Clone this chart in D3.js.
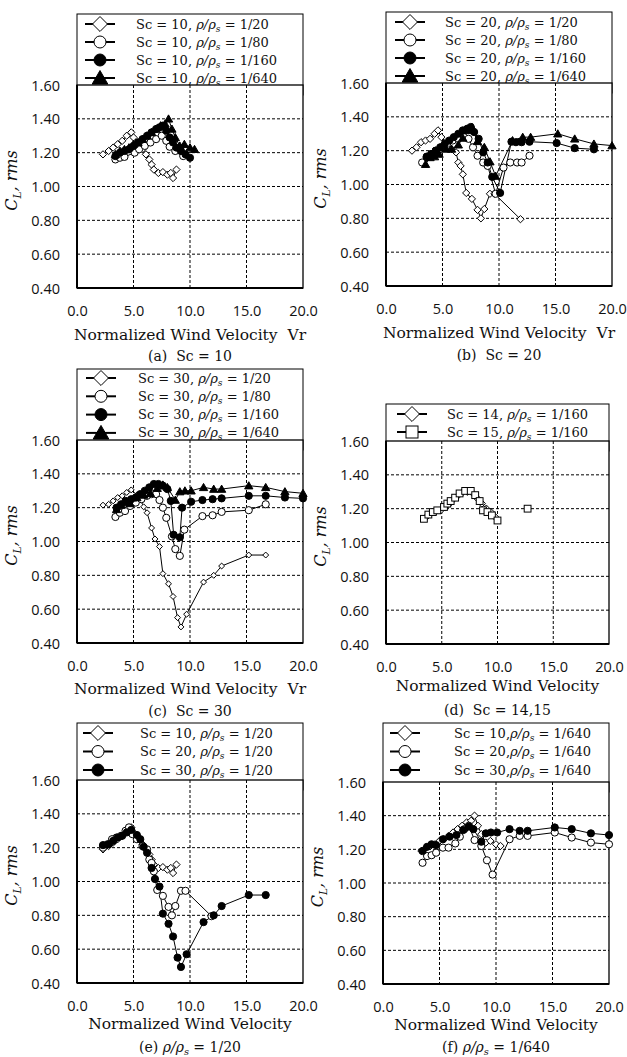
<!DOCTYPE html>
<html lang="en">
<head>
<meta charset="UTF-8">
<title>CL,rms vs Normalized Wind Velocity</title>
<script src="https://d3js.org/d3.v7.min.js"></script>
<style>
  body { margin: 0; background: #fff; }
  .tick-label { font-family: "Open Sans", sans-serif; font-size: 14.5px; fill: #111; }
  .grid { stroke: #000; stroke-width: 1; stroke-dasharray: 3,2; }
  .serif { font-family: "DejaVu Serif", serif; fill: #111; }
</style>
</head>
<body>
<div id="chart"></div>
<script>
// tick values
const xTicks = [0, 5, 10, 15, 20];
const yTicks = [0.4, 0.6, 0.8, 1.0, 1.2, 1.4, 1.6];

// Sc = 10
const sc10_r20 = [[2.3,1.19],[2.8,1.21],[3.2,1.23],[3.6,1.25],[4.0,1.27],[4.4,1.30],[4.8,1.32],[5.0,1.29],[5.4,1.26],[5.8,1.22],[6.1,1.19],[6.4,1.16],[6.6,1.13],[6.8,1.10],[7.2,1.08],[7.6,1.085],[8.0,1.07],[8.3,1.08],[8.5,1.05],[8.8,1.10]];
const sc10_r80 = [[3.4,1.16],[3.8,1.17],[4.2,1.175],[5.1,1.20],[5.5,1.22],[6.0,1.24],[6.5,1.26],[7.0,1.28],[7.5,1.30],[7.9,1.27],[8.2,1.235],[8.7,1.21],[9.4,1.18]];
const sc10_r160 = [[3.4,1.18],[3.8,1.20],[4.2,1.21],[4.6,1.22],[5.0,1.24],[5.4,1.26],[5.8,1.28],[6.2,1.30],[6.6,1.32],[7.0,1.34],[7.3,1.35],[7.6,1.36],[7.9,1.33],[8.2,1.29],[8.5,1.26],[8.8,1.23],[9.2,1.21],[9.6,1.19],[10.0,1.17]];
const sc10_r640 = [[3.4,1.19],[3.8,1.21],[4.2,1.22],[4.6,1.23],[5.0,1.25],[5.4,1.26],[5.8,1.28],[6.2,1.30],[6.6,1.32],[7.0,1.34],[7.4,1.36],[7.8,1.37],[8.1,1.40],[8.4,1.34],[8.7,1.29],[9.1,1.24],[9.5,1.25],[10.0,1.23],[10.4,1.22]];

// Sc = 20
const sc20_r20 = [[2.3,1.20],[2.7,1.22],[3.1,1.25],[3.5,1.26],[3.9,1.27],[4.3,1.30],[4.6,1.32],[4.9,1.28],[5.3,1.25],[5.8,1.21],[6.2,1.19],[6.4,1.13],[6.6,1.11],[6.8,1.06],[7.1,0.95],[7.6,0.915],[8.1,0.85],[8.4,0.80],[8.7,0.855],[9.2,0.945],[9.6,0.945],[11.9,0.795]];
const sc20_r80 = [[3.2,1.13],[3.6,1.16],[4.0,1.18],[4.4,1.20],[4.9,1.22],[5.4,1.24],[5.9,1.26],[6.4,1.27],[6.9,1.28],[7.3,1.27],[7.7,1.22],[8.1,1.17],[8.6,1.13],[9.0,1.11],[9.7,0.945],[10.4,1.10],[11.0,1.13],[11.6,1.13],[12.0,1.13],[12.7,1.17]];
const sc20_r160 = [[3.6,1.165],[4.0,1.18],[4.4,1.20],[4.8,1.22],[5.2,1.24],[5.6,1.26],[6.0,1.28],[6.4,1.30],[6.8,1.32],[7.2,1.33],[7.5,1.34],[7.8,1.31],[8.2,1.27],[8.6,1.19],[9.0,1.13],[9.4,1.045],[10.1,0.95],[11.1,1.253],[11.5,1.25],[12.0,1.25],[12.7,1.253],[15.1,1.245],[16.7,1.215],[18.4,1.208]];
const sc20_r640 = [[3.5,1.12],[3.9,1.16],[4.3,1.165],[4.7,1.18],[5.3,1.21],[5.8,1.21],[6.4,1.235],[6.8,1.275],[7.2,1.32],[7.6,1.34],[8.1,1.255],[8.7,1.22],[9.2,1.135],[9.7,1.05],[11.2,1.26],[12.1,1.28],[12.8,1.28],[15.2,1.30],[16.7,1.27],[18.4,1.24],[20.0,1.23]];

// Sc = 30
const sc30_r20 = [[2.3,1.215],[2.8,1.22],[3.2,1.24],[3.6,1.26],[4.0,1.27],[4.4,1.29],[4.8,1.305],[5.3,1.275],[5.6,1.25],[5.9,1.205],[6.2,1.17],[6.6,1.08],[6.9,1.015],[7.3,0.97],[7.6,0.81],[8.1,0.75],[8.5,0.675],[8.9,0.55],[9.2,0.495],[9.7,0.57],[11.2,0.76],[12.1,0.80],[12.8,0.855],[15.2,0.92],[16.7,0.92]];
const sc30_r80 = [[3.4,1.145],[3.8,1.17],[4.25,1.18],[4.7,1.21],[5.2,1.23],[5.7,1.25],[6.2,1.27],[6.6,1.28],[7.0,1.28],[7.3,1.245],[7.6,1.20],[7.9,1.14],[8.4,1.03],[8.7,0.955],[9.1,0.915],[9.5,1.07],[11.1,1.15],[12.0,1.155],[12.8,1.175],[15.2,1.185],[16.7,1.22]];
const sc30_r160 = [[3.5,1.20],[3.9,1.22],[4.3,1.24],[4.8,1.25],[5.2,1.26],[5.6,1.28],[6.0,1.30],[6.4,1.32],[6.8,1.34],[7.2,1.34],[7.6,1.33],[8.0,1.31],[8.3,1.24],[8.55,1.04],[9.1,1.025],[9.3,1.20],[10.1,1.235],[11.1,1.245],[12.0,1.25],[12.8,1.255],[15.2,1.27],[16.7,1.27],[18.4,1.26],[20.0,1.255]];
const sc30_r640 = [[3.5,1.19],[3.9,1.215],[4.3,1.23],[4.7,1.225],[5.3,1.26],[5.9,1.275],[6.5,1.285],[7.1,1.315],[7.6,1.335],[8.0,1.32],[8.7,1.245],[9.1,1.295],[9.55,1.30],[10.1,1.30],[11.2,1.32],[12.1,1.31],[12.8,1.31],[15.2,1.33],[16.7,1.32],[18.4,1.295],[20.0,1.285]];

// Sc = 14, 15 (rho/rho_s = 1/160)
const sc14_r160 = [[3.6,1.15],[4.0,1.17],[4.4,1.18],[4.9,1.19],[5.3,1.21],[5.7,1.23],[6.1,1.26],[6.5,1.28],[6.9,1.30],[7.3,1.30],[7.8,1.29],[8.2,1.26],[8.6,1.23],[9.0,1.20],[9.4,1.18],[9.8,1.15]];
const sc15_r160 = [[3.4,1.14],[3.8,1.165],[4.2,1.18],[4.6,1.19],[5.2,1.21],[5.5,1.23],[5.8,1.245],[6.2,1.265],[6.6,1.29],[7.1,1.305],[7.6,1.305],[8.0,1.28],[8.4,1.245],[8.7,1.19],[9.1,1.18],[9.5,1.16],[10.0,1.13],null,[12.7,1.20]];

const panels = [
  { box: [77, 303, 85, 288], legTop: 14, rowY: 24, rowH: 18, lineDx: 8, textDx: 59,
    xlab: "Normalized Wind Velocity  Vr", xlabDy: 52, capDy: 73, cap: { tag: "(a)  ", sc: "Sc = 10" },
    series: [
      { data: sc10_r20, mk: "diamond", label: ["Sc = 10, ", "1/20"] },
      { data: sc10_r80, mk: "circle", label: ["Sc = 10, ", "1/80"] },
      { data: sc10_r160, mk: "dot", label: ["Sc = 10, ", "1/160"] },
      { data: sc10_r640, mk: "triangle", label: ["Sc = 10, ", "1/640"] }] },
  { box: [386, 612, 83, 286], legTop: 12, rowY: 22, rowH: 18, lineDx: 9, textDx: 59,
    xlab: "Normalized Wind Velocity  Vr", xlabDy: 52, capDy: 74, cap: { tag: "(b)  ", sc: "Sc = 20" },
    series: [
      { data: sc20_r20, mk: "diamond", label: ["Sc = 20, ", "1/20"] },
      { data: sc20_r80, mk: "circle", label: ["Sc = 20, ", "1/80"] },
      { data: sc20_r160, mk: "dot", label: ["Sc = 20, ", "1/160"] },
      { data: sc20_r640, mk: "triangle", label: ["Sc = 20, ", "1/640"] }] },
  { box: [77, 303, 440, 643], legTop: 369, rowY: 378, rowH: 18.3, lineDx: 9, textDx: 61,
    xlab: "Normalized Wind Velocity  Vr", xlabDy: 51, capDy: 73, cap: { tag: "(c)  ", sc: "Sc = 30" },
    series: [
      { data: sc30_r20, mk: "diamond", small: true, label: ["Sc = 30, ", "1/20"] },
      { data: sc30_r80, mk: "circle", label: ["Sc = 30, ", "1/80"] },
      { data: sc30_r160, mk: "dot", label: ["Sc = 30, ", "1/160"] },
      { data: sc30_r640, mk: "triangle", label: ["Sc = 30, ", "1/640"] }] },
  { box: [386, 609, 441, 644], legTop: 404, rowY: 414, rowH: 18, lineDx: 11, textDx: 61,
    xlab: "Normalized Wind Velocity", xlabDy: 47, capDy: 71, cap: { tag: "(d)  ", sc: "Sc = 14,15" },
    series: [
      { data: sc14_r160, mk: "diamond", label: ["Sc = 14, ", "1/160"] },
      { data: sc15_r160, mk: "square", label: ["Sc = 15, ", "1/160"] }] },
  { box: [77, 303, 780, 983], legTop: 723, rowY: 733, rowH: 18.5, lineDx: 6, textDx: 63,
    xlab: "Normalized Wind Velocity", xlabDy: 46, capDy: 69, cap: { tag: "(e) ", ratio: "1/20" },
    series: [
      { data: sc10_r20, mk: "diamond", label: ["Sc = 10, ", "1/20"] },
      { data: sc20_r20, mk: "circle", label: ["Sc = 20, ", "1/20"] },
      { data: sc30_r20, mk: "dot", label: ["Sc = 30, ", "1/20"] }] },
  { box: [383, 609, 782, 984], legTop: 723, rowY: 733, rowH: 18.5, lineDx: 7, textDx: 71,
    xlab: "Normalized Wind Velocity", xlabDy: 46, capDy: 68, cap: { tag: "(f) ", ratio: "1/640" },
    series: [
      { data: sc10_r640, mk: "diamond", label: ["Sc = 10,", "1/640"] },
      { data: sc20_r640, mk: "circle", label: ["Sc = 20,", "1/640"] },
      { data: sc30_r640, mk: "dot", label: ["Sc = 30,", "1/640"] }] }
];

const svg = d3.select("#chart").append("svg")
  .attr("width", 627).attr("height", 1057)
  .style("background", "#fff");

// marker drawing
function marker(g, type, cx, cy, s) {
  if (type === "circle" || type === "dot") {
    g.append("circle").attr("cx", cx).attr("cy", cy).attr("r", s)
      .attr("fill", type === "dot" ? "#000" : "#fff").attr("stroke", "#000").attr("stroke-width", 1);
  } else if (type === "diamond") {
    const h = s * 1.1;
    g.append("path").attr("d", `M${cx},${cy - h}L${cx + h},${cy}L${cx},${cy + h}L${cx - h},${cy}Z`)
      .attr("fill", "#fff").attr("stroke", "#000").attr("stroke-width", 1);
  } else if (type === "triangle") {
    const w = s * 1.15, h = s * 1.0;
    g.append("path").attr("d", `M${cx},${cy - h * 1.1}L${cx + w},${cy + h * 0.9}L${cx - w},${cy + h * 0.9}Z`)
      .attr("fill", "#000").attr("stroke", "#000").attr("stroke-width", 1);
  } else if (type === "square") {
    g.append("rect").attr("x", cx - s).attr("y", cy - s).attr("width", 2 * s).attr("height", 2 * s)
      .attr("fill", "#fff").attr("stroke", "#000").attr("stroke-width", 1);
  }
}

// text with italic rho/rho_s
function ratioText(t, ratio) {
  t.append("tspan").attr("font-style", "italic").text("ρ/ρ");
  t.append("tspan").attr("font-style", "italic").attr("font-size", "0.7em").attr("dy", 3).text("s");
  t.append("tspan").attr("dy", -3).text(" = " + ratio);
}

panels.forEach(p => {
  const [L, R, T, B] = p.box;
  const x = d3.scaleLinear().domain([0, 20]).range([L, R]);
  const y = d3.scaleLinear().domain([0.4, 1.6]).range([B, T]);
  const g = svg.append("g");

  // legend (drawn first, its bottom is covered by the plot area)
  const leg = g.append("g");
  leg.append("rect").attr("x", L).attr("y", p.legTop).attr("width", R - L).attr("height", T - p.legTop + 10)
    .attr("fill", "#fff").attr("stroke", "#000").attr("stroke-width", 1);
  p.series.forEach((s, i) => {
    const cy = p.rowY + i * p.rowH;
    leg.append("line").attr("x1", L + p.lineDx).attr("x2", L + p.lineDx + 30)
      .attr("y1", cy).attr("y2", cy).attr("stroke", "#000").attr("stroke-width", 2);
    marker(leg, s.mk, L + p.lineDx + 15, cy, s.mk === "circle" || s.mk === "dot" ? 6 : (s.mk === "square" ? 6 : 6.8));
    const t = leg.append("text").attr("class", "serif").attr("x", L + p.textDx).attr("y", cy + 4.5)
      .attr("font-size", 13).attr("xml:space", "preserve");
    t.append("tspan").text(s.label[0]);
    ratioText(t, s.label[1]);
  });

  // plot area
  g.append("rect").attr("x", L).attr("y", T).attr("width", R - L).attr("height", B - T)
    .attr("fill", "#fff").attr("stroke", "#000").attr("stroke-width", 1.3);

  // grid
  xTicks.slice(1, -1).forEach(v => g.append("line").attr("class", "grid")
    .attr("x1", x(v)).attr("x2", x(v)).attr("y1", T).attr("y2", B));
  yTicks.slice(1, -1).forEach(v => g.append("line").attr("class", "grid")
    .attr("x1", L).attr("x2", R).attr("y1", y(v)).attr("y2", y(v)));

  // axes
  const xa = g.append("g").attr("transform", `translate(0,${B})`)
    .call(d3.axisBottom(x).tickValues(xTicks).tickFormat(d3.format(".1f")).tickSize(0).tickPadding(0));
  xa.select(".domain").remove();
  xa.selectAll("text").attr("class", "tick-label").attr("dy", null).attr("y", 28).attr("fill", "#111");
  const ya = g.append("g").attr("transform", `translate(${L},0)`)
    .call(d3.axisLeft(y).tickValues(yTicks).tickFormat(d3.format(".2f")).tickSize(0).tickPadding(0));
  ya.select(".domain").remove();
  ya.selectAll("text").attr("class", "tick-label").attr("x", -17).attr("dy", "0.35em").attr("fill", "#111");

  g.append("line").attr("x1", L).attr("x2", L).attr("y1", T).attr("y2", B).attr("stroke", "#000").attr("stroke-width", 2);
  g.append("line").attr("x1", L).attr("x2", R).attr("y1", B).attr("y2", B).attr("stroke", "#000").attr("stroke-width", 2);

  // series
  const line = d3.line().defined(d => d).x(d => x(d[0])).y(d => y(d[1]));
  p.series.forEach(s => {
    g.append("path").attr("d", line(s.data)).attr("fill", "none").attr("stroke", "#000").attr("stroke-width", 1);
  });
  p.series.forEach(s => {
    const mg = g.append("g");
    const size = s.mk === "diamond" ? (s.small ? 2.7 : 3.3) : (s.mk === "square" ? 3.4 : 3.6);
    s.data.filter(d => d).forEach(d => marker(mg, s.mk, x(d[0]), y(d[1]), size));
  });

  // y label
  const cxL = L - 60, cyL = (T + B) / 2 - 6;
  const yl = g.append("text").attr("class", "serif").attr("font-size", 16).attr("font-style", "italic")
    .attr("text-anchor", "middle").attr("transform", `translate(${cxL},${cyL}) rotate(-90)`);
  yl.append("tspan").text("C");
  yl.append("tspan").attr("font-size", "0.65em").attr("dy", 4).text("L");
  yl.append("tspan").attr("dy", -4).text(", rms");

  // x label
  g.append("text").attr("class", "serif").attr("font-size", 15.5).attr("xml:space", "preserve")
    .attr("text-anchor", "middle").attr("x", (L + R) / 2).attr("y", B + p.xlabDy).text(p.xlab);

  // caption
  const cap = g.append("text").attr("class", "serif").attr("font-size", 14).attr("xml:space", "preserve")
    .attr("text-anchor", "middle").attr("x", (L + R) / 2).attr("y", B + p.capDy);
  cap.append("tspan").text(p.cap.tag);
  if (p.cap.sc) cap.append("tspan").text(p.cap.sc);
  else ratioText(cap, p.cap.ratio);
});
</script>
</body>
</html>
